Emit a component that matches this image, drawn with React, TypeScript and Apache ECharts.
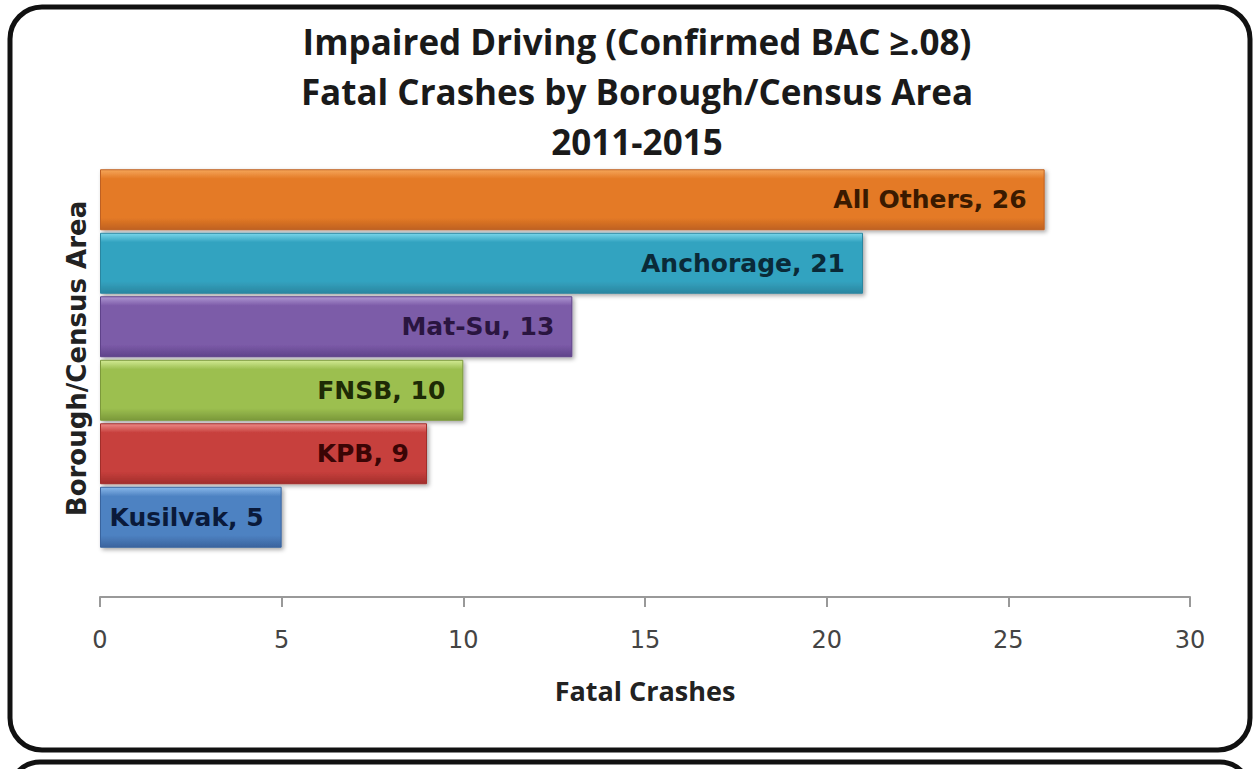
import React, { useEffect, useRef } from "react";
import * as echarts from "echarts";

const categories = ["All Others", "Anchorage", "Mat-Su", "FNSB", "KPB", "Kusilvak"];
const crashes = [26, 21, 13, 10, 9, 5];
const barColors = [
  ["#F5A65A", "#E47A26", "#BF6120"],
  ["#7AD6EA", "#33A3C0", "#2A86A0"],
  ["#AE96D2", "#7C5BA8", "#5F428A"],
  ["#D2EA94", "#9CBF50", "#7B993A"],
  ["#EC8A88", "#C73F3C", "#A22E2C"],
  ["#88B8EA", "#4E82C2", "#3A649E"],
];
const labelColors = ["#3A1A00", "#0A2A38", "#2A1540", "#1E2A05", "#3A0505", "#0A1A3A"];
const titleLines = ["Impaired Driving (Confirmed BAC \u2265.08)", "Fatal Crashes by Borough/Census Area", "2011-2015"];

export default function App() {
  const ref = useRef<HTMLDivElement>(null);
  useEffect(() => {
    const chart = echarts.init(ref.current!, null, { renderer: "svg" });
    const grad = (c: string[]) =>
      new echarts.graphic.LinearGradient(0, 0, 0, 1, [
        { offset: 0, color: c[0] },
        { offset: 0.15, color: c[1] },
        { offset: 0.8, color: c[1] },
        { offset: 1, color: c[2] },
      ]);
    chart.setOption({
      animation: false,
      backgroundColor: "#ffffff",
      title: {
        text: titleLines.join("\n"),
        left: 632,
        textAlign: "center",
        top: 11,
        textStyle: {
          fontFamily: "Open Sans",
          fontWeight: "bold",
          fontSize: 35,
          lineHeight: 50,
          color: "#1a1a1a",
        },
      },
      graphic: [
        {
          type: "rect",
          shape: { x: 10, y: 7, width: 1240, height: 743, r: 32 },
          style: { fill: "none", stroke: "#111", lineWidth: 5 },
          z: 10,
        },
        {
          type: "rect",
          shape: { x: 10, y: 762, width: 1240, height: 60, r: 32 },
          style: { fill: "none", stroke: "#111", lineWidth: 5 },
          z: 10,
        },
      ],
      grid: { left: 100, right: 70, top: 168, bottom: 220 },
      xAxis: {
        type: "value",
        min: 0,
        max: 30,
        interval: 5,
        offset: 48,
        name: "Fatal Crashes",
        nameLocation: "middle",
        nameGap: 80,
        nameTextStyle: { fontFamily: "Open Sans", fontWeight: "bold", fontSize: 27, color: "#222" },
        axisLine: { show: true, lineStyle: { color: "#999", width: 2 } },
        axisTick: { show: true, length: 10, lineStyle: { color: "#999", width: 2 } },
        axisLabel: { margin: 31, fontFamily: "DejaVu Sans", fontSize: 24, color: "#444" },
        splitLine: { show: false },
      },
      yAxis: {
        type: "category",
        data: categories,
        inverse: true,
        name: "Borough/Census Area",
        nameLocation: "middle",
        nameGap: 10,
        nameTextStyle: { fontFamily: "DejaVu Sans", fontWeight: "bold", fontSize: 26, color: "#222" },
        axisLine: { show: false },
        axisTick: { show: false },
        axisLabel: { show: false },
      },
      series: [
        {
          type: "bar",
          barCategoryGap: "4%",
          data: crashes.map((v, i) => ({
            value: v,
            itemStyle: {
              color: grad(barColors[i]),
              borderColor: barColors[i][2],
              borderWidth: 1,
              shadowColor: "rgba(0,0,0,0.35)",
              shadowBlur: 4,
              shadowOffsetX: 2,
              shadowOffsetY: 2,
            },
            label: { color: labelColors[i] },
          })),
          label: {
            show: true,
            position: "insideRight",
            distance: 18,
            formatter: "{b}, {c}",
            fontFamily: "DejaVu Sans",
            fontWeight: "bold",
            fontSize: 25,
          },
        },
      ],
    });
    return () => chart.dispose();
  }, []);
  return (
    <div
      ref={ref}
      style={{ position: "fixed", left: 0, top: 0, width: 1260, height: 769 }}
    />
  );
}
